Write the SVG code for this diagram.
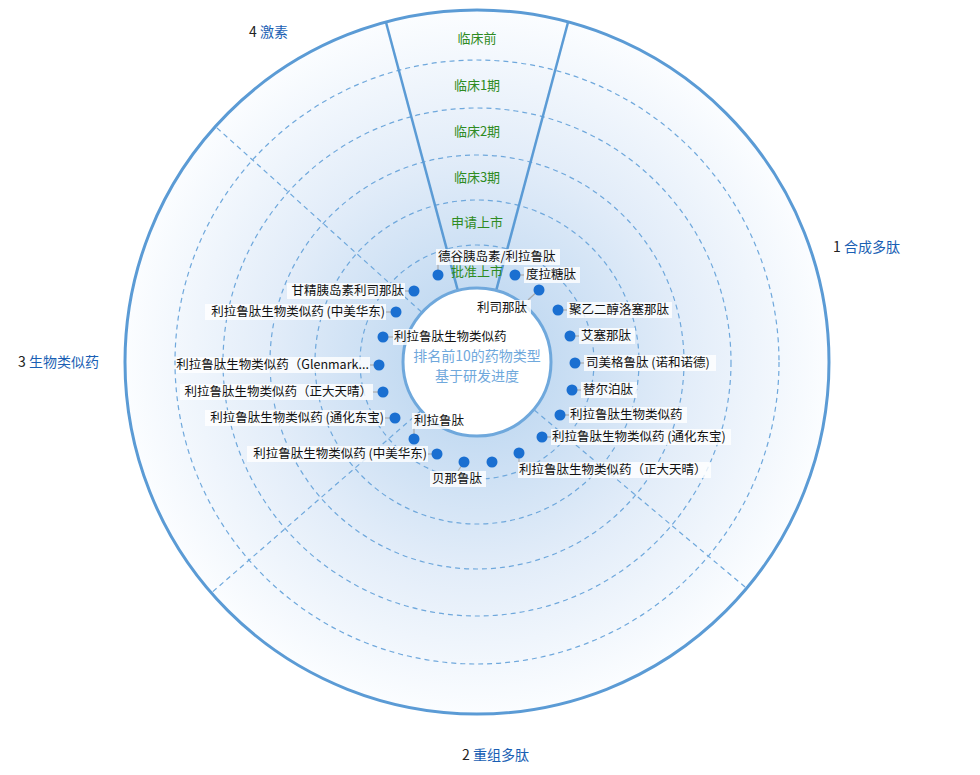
<svg xmlns="http://www.w3.org/2000/svg" width="980" height="775" viewBox="0 0 980 775">
<defs>
<radialGradient id="bg" gradientUnits="userSpaceOnUse" cx="477" cy="362" r="352">
<stop offset="0.2" stop-color="#c4dbf2"/>
<stop offset="0.6" stop-color="#e3edf9"/>
<stop offset="1" stop-color="#fbfdff"/>
</radialGradient>
<style>
text{font-family:"Noto Sans CJK SC","Liberation Sans",sans-serif}
.ring{fill:none;stroke:#6fa8dc;stroke-width:1.2;stroke-dasharray:5 4}
.div{stroke:#6fa8dc;stroke-width:1.2;stroke-dasharray:5 4}
.wedge{stroke:#5b9bd5;stroke-width:2.5}
.stage{fill:#2e8b22;font-size:13px;text-anchor:middle}
.sec{font-size:14px}
.num{fill:#222}
.secname{fill:#1a5fb4}
.lbl{font-size:12.5px;fill:#111}
.bgr{fill:#fff;fill-opacity:0.8}
.dot{fill:#1a6fd1}
.con{stroke:#aaa;stroke-width:1.2;fill:none}
.ctr{fill:#6fa8dc;font-size:14px;text-anchor:middle}
</style>
</defs>
<g id="chart">
<circle cx="477" cy="362" r="352" fill="url(#bg)" stroke="#5b9bd5" stroke-width="3"/>
<circle class="ring" cx="477" cy="362" r="302"/>
<circle class="ring" cx="477" cy="362" r="254"/>
<circle class="ring" cx="477" cy="362" r="207"/>
<circle class="ring" cx="477" cy="362" r="162"/>
<circle class="ring" cx="477" cy="362" r="117"/>
<line class="div" x1="534.5" y1="410.2" x2="746.6" y2="588.3"/>
<line class="div" x1="420.4" y1="411.2" x2="211.3" y2="592.9"/>
<line class="div" x1="421.3" y1="311.8" x2="215.4" y2="126.5"/>
<line class="wedge" x1="457.6" y1="289.6" x2="385.9" y2="22"/>
<line class="wedge" x1="496.4" y1="289.6" x2="568.1" y2="22"/>
<circle cx="477" cy="362" r="74" fill="#fff" stroke="#6fa8dc" stroke-width="3"/>
</g>
<g id="stages">
<text class="stage" x="477" y="43">临床前</text>
<text class="stage" x="477" y="90">临床1期</text>
<text class="stage" x="477" y="136">临床2期</text>
<text class="stage" x="477" y="182">临床3期</text>
<text class="stage" x="477" y="227">申请上市</text>
<text class="stage" x="477" y="276">批准上市</text>
</g>
<g id="sectors">
<text class="sec" x="833" y="252"><tspan class="num">1 </tspan><tspan class="secname">合成多肽</tspan></text>
<text class="sec" x="462" y="760"><tspan class="num">2 </tspan><tspan class="secname">重组多肽</tspan></text>
<text class="sec" x="18" y="367"><tspan class="num">3 </tspan><tspan class="secname">生物类似药</tspan></text>
<text class="sec" x="249" y="37"><tspan class="num">4 </tspan><tspan class="secname">激素</tspan></text>
</g>
<g id="center">
<text class="ctr" x="477" y="361">排名前10的药物类型</text>
<text class="ctr" x="477" y="381">基于研发进度</text>
</g>
<g id="connectors">
<polyline class="con" points="438,275 438,264"/>
<line class="con" x1="515" y1="275" x2="524" y2="275"/>
<line class="con" x1="414" y1="291" x2="405" y2="291"/>
<polyline class="con" points="539,290 528,300"/>
<line class="con" x1="558" y1="310" x2="567" y2="310"/>
<line class="con" x1="396" y1="312" x2="386" y2="312"/>
<line class="con" x1="383" y1="337" x2="393" y2="337"/>
<line class="con" x1="570" y1="336" x2="579" y2="336"/>
<line class="con" x1="379" y1="365" x2="370" y2="365"/>
<line class="con" x1="575" y1="363" x2="584" y2="363"/>
<line class="con" x1="383" y1="392" x2="373" y2="392"/>
<line class="con" x1="572" y1="390" x2="581" y2="390"/>
<line class="con" x1="395" y1="418" x2="385" y2="418"/>
<line class="con" x1="560" y1="415" x2="569" y2="415"/>
<polyline class="con" points="414,439 414,428"/>
<line class="con" x1="542" y1="437" x2="551" y2="437"/>
<line class="con" x1="437" y1="454" x2="428" y2="454"/>
<polyline class="con" points="464,462 458,471"/>
<polyline class="con" points="519,453 519,463"/>
</g>
<g id="n1"><rect class="bgr" x="436" y="249" width="124" height="16"/><text class="lbl" x="438" y="261">德谷胰岛素/利拉鲁肽</text><circle class="dot" cx="438" cy="275" r="5.5"/></g>
<g id="n2"><rect class="bgr" x="524" y="267" width="56" height="16"/><text class="lbl" x="526" y="279">度拉糖肽</text><circle class="dot" cx="515" cy="275" r="5.5"/></g>
<g id="n3"><rect class="bgr" x="287" y="283" width="118" height="16"/><text class="lbl" x="404" y="295" text-anchor="end">甘精胰岛素利司那肽</text><circle class="dot" cx="414" cy="291" r="5.5"/></g>
<g id="n4"><rect class="bgr" x="475" y="300" width="56" height="16"/><text class="lbl" x="477" y="312">利司那肽</text><circle class="dot" cx="539" cy="290" r="5.5"/></g>
<g id="n5"><rect class="bgr" x="567" y="302" width="105" height="16"/><text class="lbl" x="569" y="314">聚乙二醇洛塞那肽</text><circle class="dot" cx="558" cy="310" r="5.5"/></g>
<g id="n6"><rect class="bgr" x="205" y="304" width="181" height="16"/><text class="lbl" x="385" y="316" text-anchor="end">利拉鲁肽生物类似药 (中美华东)</text><circle class="dot" cx="396" cy="312" r="5.5"/></g>
<g id="n7"><rect class="bgr" x="393" y="329" width="118" height="16"/><text class="lbl" x="394" y="341">利拉鲁肽生物类似药</text><circle class="dot" cx="383" cy="337" r="5.5"/></g>
<g id="n8"><rect class="bgr" x="579" y="328" width="56" height="16"/><text class="lbl" x="581" y="340">艾塞那肽</text><circle class="dot" cx="570" cy="336" r="5.5"/></g>
<g id="n9"><rect class="bgr" x="176" y="357" width="194" height="16"/><text class="lbl" x="369" y="369" text-anchor="end">利拉鲁肽生物类似药（Glenmark...</text><circle class="dot" cx="379" cy="365" r="5.5"/></g>
<g id="n10"><rect class="bgr" x="584" y="355" width="132" height="16"/><text class="lbl" x="586" y="367">司美格鲁肽 (诺和诺德)</text><circle class="dot" cx="575" cy="363" r="5.5"/></g>
<g id="n11"><rect class="bgr" x="180" y="384" width="193" height="16"/><text class="lbl" x="372" y="396" text-anchor="end">利拉鲁肽生物类似药（正大天晴）</text><circle class="dot" cx="383" cy="392" r="5.5"/></g>
<g id="n12"><rect class="bgr" x="581" y="382" width="56" height="16"/><text class="lbl" x="583" y="394">替尔泊肽</text><circle class="dot" cx="572" cy="390" r="5.5"/></g>
<g id="n13"><rect class="bgr" x="205" y="410" width="180" height="16"/><text class="lbl" x="384" y="422" text-anchor="end">利拉鲁肽生物类似药 (通化东宝)</text><circle class="dot" cx="395" cy="418" r="5.5"/></g>
<g id="n14"><rect class="bgr" x="569" y="407" width="118" height="16"/><text class="lbl" x="570" y="419">利拉鲁肽生物类似药</text><circle class="dot" cx="560" cy="415" r="5.5"/></g>
<g id="n15"><rect class="bgr" x="412" y="413" width="56" height="16"/><text class="lbl" x="414" y="425">利拉鲁肽</text><circle class="dot" cx="414" cy="439" r="5.5"/></g>
<g id="n16"><rect class="bgr" x="551" y="429" width="180" height="16"/><text class="lbl" x="552" y="441">利拉鲁肽生物类似药 (通化东宝)</text><circle class="dot" cx="542" cy="437" r="5.5"/></g>
<g id="n17"><rect class="bgr" x="247" y="446" width="181" height="16"/><text class="lbl" x="427" y="458" text-anchor="end">利拉鲁肽生物类似药 (中美华东)</text><circle class="dot" cx="437" cy="454" r="5.5"/></g>
<g id="n18"><rect class="bgr" x="430" y="471" width="56" height="16"/><text class="lbl" x="432" y="483">贝那鲁肽</text><circle class="dot" cx="464" cy="462" r="5.5"/></g>
<g id="n19"><circle class="dot" cx="492" cy="462" r="5.5"/></g>
<g id="n20"><rect class="bgr" x="518" y="462" width="193" height="16"/><text class="lbl" x="519" y="474">利拉鲁肽生物类似药（正大天晴）</text><circle class="dot" cx="519" cy="453" r="5.5"/></g>
</svg>
